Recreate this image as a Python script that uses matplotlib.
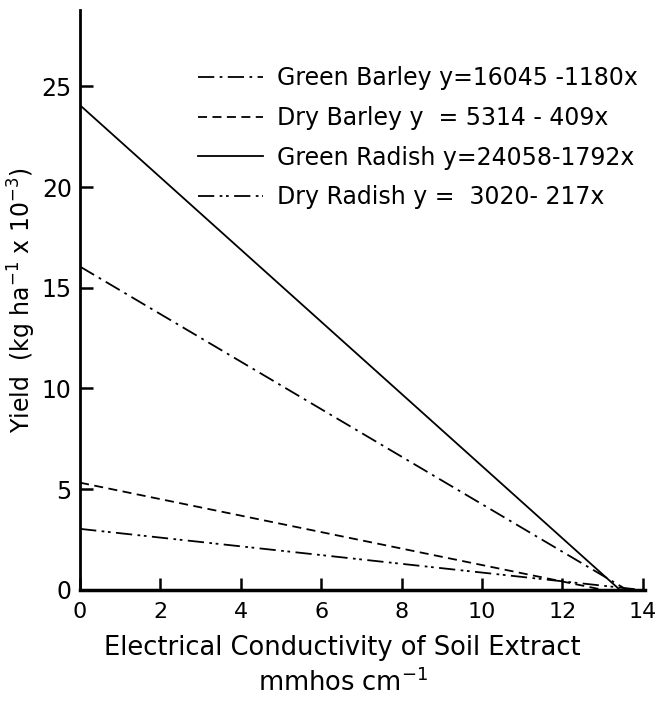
import numpy as np
import matplotlib.pyplot as plt

labels = ["Green Barley y=16045 -1180x",
          "Dry Barley y  = 5314 - 409x",
          "Green Radish y=24058-1792x",
          "Dry Radish y =  3020- 217x"]
intercepts = [16045, 5314, 24058, 3020]
slopes = [-1180, -409, -1792, -217]
styles = [(0, (9, 3, 1.5, 3)), (0, (5, 3)), "-", (0, (9, 3, 1.5, 2, 1.5, 3))]

x_ticks = [0, 2, 4, 6, 8, 10, 12, 14]
y_ticks = [0, 5, 10, 15, 20, 25]

plt.rcParams["font.family"] = "DejaVu Sans"
fig = plt.figure(figsize=(6.62, 7.02), dpi=100)
ax = fig.add_axes([0.121, 0.160, 0.853, 0.826])

for lab, a, b, ls in zip(labels, intercepts, slopes, styles):
    x_end = -a / b
    x = np.array([0.0, x_end])
    y = (a + b * x) / 1000.0
    ax.plot(x, y, color="black", linestyle=ls, linewidth=1.3, label=lab)

ax.set_xlim(0, 14.05)
ax.set_ylim(0, 28.8)
ax.set_xticks(x_ticks)
ax.set_yticks(y_ticks)
ax.set_xticklabels([str(v) for v in x_ticks])
ax.set_yticklabels([str(v) for v in y_ticks])
ax.tick_params(direction="in", length=9, width=1.8)
ax.tick_params(axis="x", pad=9, labelsize=16)
ax.tick_params(axis="y", pad=6, labelsize=17)
ax.spines["top"].set_visible(False)
ax.spines["right"].set_visible(False)
ax.spines["left"].set_linewidth(2)
ax.spines["bottom"].set_linewidth(2.5)

ax.set_xlabel("Electrical Conductivity of Soil Extract\nmmhos cm$^{-1}$",
              fontsize=18.5, linespacing=1.35)
ax.xaxis.set_label_coords(0.465, -0.078)
ax.set_ylabel("Yield  (kg ha$^{-1}$ x 10$^{-3}$)", fontsize=17)
ax.yaxis.set_label_coords(-0.074, 0.5)

leg = ax.legend(loc="upper left", bbox_to_anchor=(198 / 662, 1 - 66 / 702),
                bbox_transform=fig.transFigure, frameon=False, fontsize=17,
                handlelength=2.75, handletextpad=0.6, labelspacing=0.67,
                borderaxespad=0, borderpad=0)

fig.savefig("out.png", dpi=100)
